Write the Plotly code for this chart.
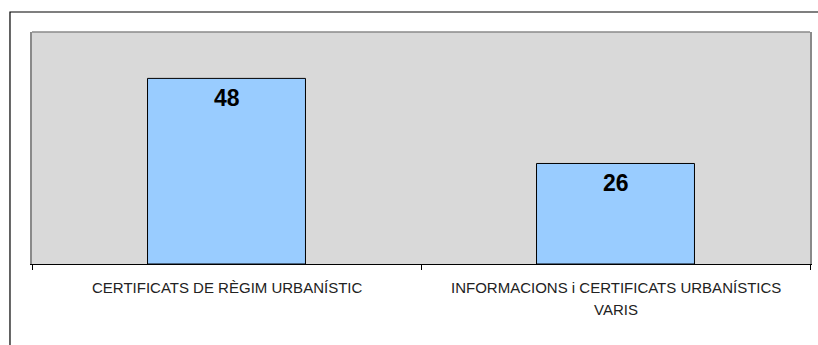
import plotly.graph_objects as go

# Dades
label_lines = [["CERTIFICATS DE RÈGIM URBANÍSTIC"],
               ["INFORMACIONS i CERTIFICATS URBANÍSTICS", "VARIS"]]
categories = [" ".join(lines) for lines in label_lines]
values = [48, 26]

FONT = "Arial, Liberation Sans, sans-serif"

fig = go.Figure()

fig.add_trace(go.Bar(
    x=categories,
    y=values,
    marker=dict(color="#99CCFF", line=dict(color="black", width=1)),
    hoverinfo="skip",
))

# Etiquetes de valor dins la barra
for cat, val in zip(categories, values):
    fig.add_annotation(
        x=cat, y=val, text=f"<b>{val}</b>",
        showarrow=False, yanchor="top", yshift=-5,
        font=dict(family=FONT, size=23, color="black"),
    )

# Etiquetes de categoria (interlineat ampli com a l'original)
for cat, lines in zip(categories, label_lines):
    for i, line in enumerate(lines):
        fig.add_annotation(
            x=cat, y=0, yref="paper", text=line,
            showarrow=False, yanchor="top", yshift=-13 - 22 * i,
            font=dict(family=FONT, size=15, color="#222"),
        )

# Vora exterior del gràfic (tallada a la dreta i a baix)
fig.add_shape(type="rect", xref="paper", yref="paper",
              x0=-0.0283, x1=1.2, y0=-0.6, y1=1.0862,
              line=dict(color="black", width=1.2), fillcolor="rgba(0,0,0,0)")
# Vora superior de l'àrea del gràfic
fig.add_shape(type="line", xref="paper", yref="paper",
              x0=0, x1=1, y0=1, y1=1,
              line=dict(color="#8a8a8a", width=1.5))

fig.update_layout(
    width=818, height=345,
    margin=dict(l=32, r=8, t=32, b=81, autoexpand=False),
    paper_bgcolor="white",
    plot_bgcolor="#D9D9D9",
    bargap=0.594,
    showlegend=False,
    font=dict(family=FONT, size=14, color="#222"),
)

fig.update_xaxes(
    type="category",
    showline=True, linecolor="black", linewidth=1,
    ticks="outside", tickson="boundaries", ticklen=5, tickcolor="black",
    showgrid=False, zeroline=False, showticklabels=False,
    automargin=False,
)
fig.update_yaxes(
    range=[0, 60],
    showline=True, linecolor="#8a8a8a", linewidth=1.5, mirror=True,
    showticklabels=False, ticks="", showgrid=False, zeroline=False,
    automargin=False,
)

fig.write_html("out.html", config={"displayModeBar": False},
               post_script="document.body.style.margin='0';")
